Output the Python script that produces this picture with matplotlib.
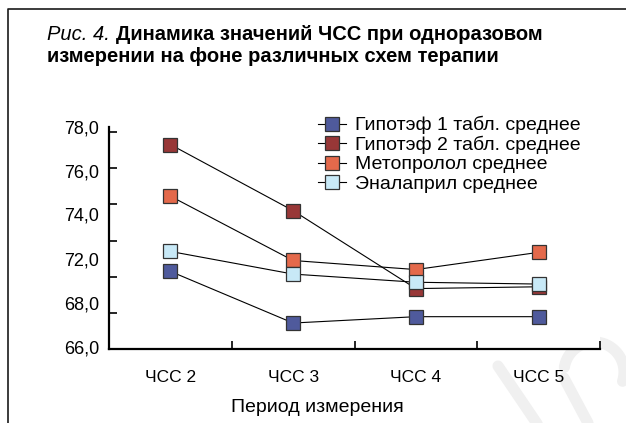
import matplotlib
matplotlib.use("Agg")
import matplotlib.pyplot as plt
from matplotlib.lines import Line2D
import numpy as np

plt.rcParams['font.family'] = ['Liberation Sans', 'DejaVu Sans']

# Data
periods = ["ЧСС 2", "ЧСС 3", "ЧСС 4", "ЧСС 5"]
series_names = [
    "Гипотэф 1 табл. среднее",
    "Гипотэф 2 табл. среднее",
    "Метопролол среднее",
    "Эналаприл среднее",
]
gipotef_1 = [70.3, 67.45, 67.8, 67.8]
gipotef_2 = [77.3, 73.65, 69.35, 69.45]
metoprolol = [74.45, 70.9, 70.4, 71.35]
enalapril = [71.4, 70.15, 69.7, 69.6]
series_values = [gipotef_1, gipotef_2, metoprolol, enalapril]
series_colors = ["#4f5a9c", "#983737", "#e4694b", "#c8e9f7"]

# Y axis annotations as printed beside the axis
ytick_label_text = ["78,0", "76,0", "74,0", "72,0", "68,0", "66,0"]
ytick_label_pos = [78.25, 75.82, 73.44, 71.0, 68.54, 66.14]
ytick_marks = [66, 68, 70, 72, 74, 76, 78]

W, H = 626, 423
fig = plt.figure(figsize=(W / 100, H / 100), dpi=100)

# faint background mark in the lower right corner
wm_ax = fig.add_axes([0, 0, 1, 1], zorder=-5)
wm_ax.set_xlim(0, W)
wm_ax.set_ylim(H, 0)
wm_ax.axis("off")
t = np.linspace(0, 1, 60)
wm_ax.plot(498 + 42 * t, 366 + 62 * t, color="#f0f0f0", lw=8, solid_capstyle="round")
ang = np.linspace(np.pi * 1.05, np.pi * 2.1, 60)
wm_ax.plot(594 + 30 * np.cos(ang), 372 + 30 * np.sin(ang), color="#f0f0f0", lw=8,
           solid_capstyle="round")
wm_ax.plot(564 + 24 * t, 378 + 45 * t, color="#f0f0f0", lw=8, solid_capstyle="round")

# outer frame (left and top edges)
fig.add_artist(Line2D([8 / W, 8 / W, 1.0], [0.0, 1 - 9 / H, 1 - 9 / H],
                      transform=fig.transFigure, color="#1a1a1a", lw=1.2))

ax = fig.add_axes([109 / W, 1 - 349.3 / H, 491 / W, 222 / H])
x = np.arange(len(periods))
for vals, name, col in zip(series_values, series_names, series_colors):
    ax.plot(x, vals, color="black", lw=0.8, marker="s", markersize=10,
            markerfacecolor=col, markeredgecolor="#333333", markeredgewidth=0.9,
            label=name)

ax.set_xlim(-0.5, 3.5)
ax.set_ylim(66, 78)
for s in ("top", "right"):
    ax.spines[s].set_visible(False)
for s in ("left", "bottom"):
    ax.spines[s].set_linewidth(1.6)
    ax.spines[s].set_color("black")

# Y: printed labels (major, no marks) and tick marks (minor, no labels)
ax.set_yticks(ytick_label_pos)
ax.set_yticklabels(ytick_label_text, fontsize=13)
ax.tick_params(axis="y", which="major", length=0, pad=7)
ax.set_yticks(ytick_marks, minor=True)
ax.tick_params(axis="y", which="minor", direction="in", length=6, width=1.2)

# X: category labels (major, no marks) and separators (minor)
ax.set_xticks(x)
ax.set_xticklabels(periods, fontsize=12.5)
ax.tick_params(axis="x", which="major", length=0, pad=15)
ax.set_xticks(list(x[1:] - 0.5) + [3.5], minor=True)
ax.tick_params(axis="x", which="minor", direction="in", length=6, width=1.2)

fig.text(317 / W, 1 - 407 / H, "Период измерения", fontsize=14,
         ha="center", va="center")

leg = fig.legend(loc="upper left", bbox_to_anchor=(318 / W, 1 - 116 / H),
                 frameon=False, fontsize=14, borderpad=0, borderaxespad=0,
                 handlelength=1.45, handletextpad=0.45, labelspacing=0.08)

# Title
t1 = fig.text(47 / W, 1 - 34 / H, "Рис. 4.", fontsize=14.5, style="italic",
              va="center", ha="left")
fig.canvas.draw()
bb = t1.get_window_extent()
fig.text((bb.x1 + 6) / W, 1 - 34 / H, "Динамика значений ЧСС при одноразовом",
         fontsize=14.5, fontweight="bold", va="center", ha="left")
fig.text(47 / W, 1 - 57 / H, "измерении на фоне различных схем терапии",
         fontsize=14.5, fontweight="bold", va="center", ha="left")

fig.savefig("out.png", dpi=100)
